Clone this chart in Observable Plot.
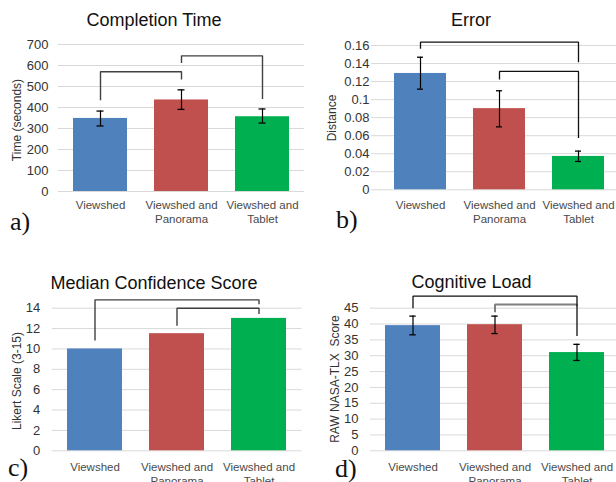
<!DOCTYPE html>
<html><head><meta charset="utf-8">
<script src="https://cdn.jsdelivr.net/npm/d3@7"></script>
<script src="https://cdn.jsdelivr.net/npm/@observablehq/plot@0.6"></script>
<style>
html,body{margin:0;padding:0;background:#fff;overflow:hidden;}
#wrap{position:relative;width:616px;height:482px;overflow:hidden;background:#fff;font-family:"Liberation Sans",Arial,sans-serif;}
.panel{position:absolute;}
.title{position:absolute;font-size:18px;line-height:1;color:#111;white-space:nowrap;transform:translateX(-50%);}
.ylab{position:absolute;font-size:12px;line-height:1;color:#333;white-space:pre;transform:translate(-50%,-50%) rotate(-90deg);}
.tag{position:absolute;font-family:"Liberation Serif","Times New Roman",serif;font-size:26px;line-height:1;color:#111;}
</style></head><body><div id="wrap"></div>
<script>
// ---------- data ----------
const categories = ["Viewshed", "Viewshed and Panorama", "Viewshed and Tablet"];
const categoryLabels = ["Viewshed", "Viewshed and\nPanorama", "Viewshed and\nTablet"];
const barColors = ["#4F81BD", "#C0504D", "#00B050"];

// a) Completion Time
const timeTitle = "Completion Time";
const timeAxisLabel = "Time (seconds)";
const timeMean = [348, 436, 356];
const timeLow = [312, 391, 326];
const timeHigh = [383, 484, 393];
const timeTicks = [0, 100, 200, 300, 400, 500, 600, 700];
const timeBrFrom = ["Viewshed", "Viewshed and Panorama"];
const timeBrTo = ["Viewshed and Panorama", "Viewshed and Tablet"];
const timeBrTop = [570, 646];
const timeBrFromEnd = [434, 612];
const timeBrToEnd = [533, 441];

// b) Error
const errTitle = "Error";
const errAxisLabel = "Distance";
const errMean = [0.129, 0.09, 0.037];
const errLow = [0.1116, 0.0698, 0.0314];
const errHigh = [0.147, 0.1098, 0.0429];
const errTicks = [0, 0.02, 0.04, 0.06, 0.08, 0.1, 0.12, 0.14, 0.16];
const errBrFrom = ["Viewshed", "Viewshed and Panorama"];
const errBrTo = ["Viewshed and Tablet", "Viewshed and Tablet"];
const errBrTop = [0.1637, 0.1312];
const errBrFromEnd = [0.1563, 0.1223];
const errBrToEnd = [0.1415, 0.0573];

// c) Median Confidence Score
const confTitle = "Median Confidence Score";
const confAxisLabel = "Likert Scale (3-15)";
const confMedian = [10, 11.5, 13];
const confTicks = [0, 2, 4, 6, 8, 10, 12, 14];
const confBrFrom = ["Viewshed", "Viewshed and Panorama"];
const confBrTo = ["Viewshed and Tablet", "Viewshed and Tablet"];
const confBrTop = [14.82, 14.0];
const confBrFromEnd = [10.83, 12.27];
const confBrToEnd = [14.39, 13.44];

// d) Cognitive Load
const loadTitle = "Cognitive Load";
const loadAxisLabel = "RAW NASA-TLX\u00a0 Score";
const loadMean = [39.5, 39.8, 31.0];
const loadLow = [36.6, 37.0, 28.5];
const loadHigh = [42.5, 42.5, 33.6];
const loadTicks = [0, 5, 10, 15, 20, 25, 30, 35, 40, 45];
const loadBrFrom = ["Viewshed and Panorama", "Viewshed"];
const loadBrTo = ["Viewshed and Tablet", "Viewshed and Tablet"];
const loadBrTop = [46.2, 48.8];
const loadBrFromEnd = [43.7, 45.0];
const loadBrToEnd = [45.6, 36.2];

// ---------- drawing ----------
const wrap = document.getElementById("wrap");

function addText(cls, text, left, top) {
  const d = document.createElement("div");
  d.className = cls;
  d.textContent = text;
  d.style.left = left + "px";
  d.style.top = top + "px";
  wrap.appendChild(d);
}

function drawPanel(cfg, vals, low, high, ticks, br, tickFormat) {
  const rows = categories.map((c, i) => ({cat: c, value: vals[i], low: low ? low[i] : null, high: high ? high[i] : null}));
  const marks = [
    Plot.gridY(ticks, {stroke: "#d9d9d9", strokeOpacity: 1, strokeWidth: 1}),
    Plot.barY(rows, {x: "cat", y: "value", fill: "cat"})
  ];
  if (low) {
    marks.push(
      Plot.ruleX(rows, {x: "cat", y1: "low", y2: "high", stroke: "#000", strokeWidth: 1.2}),
      Plot.tickY(rows, {x: "cat", y: "low", stroke: "#000", strokeWidth: 1.3, insetLeft: cfg.cap, insetRight: cfg.cap}),
      Plot.tickY(rows, {x: "cat", y: "high", stroke: "#000", strokeWidth: 1.3, insetLeft: cfg.cap, insetRight: cfg.cap})
    );
  }
  br.from.forEach((f, i) => {
    const pts = [
      {x: f, y: br.fromEnd[i]},
      {x: f, y: br.top[i]},
      {x: br.to[i], y: br.top[i]},
      {x: br.to[i], y: br.toEnd[i]}
    ];
    marks.push(Plot.line(pts, {x: "x", y: "y", stroke: cfg.brStroke[i], strokeWidth: cfg.brWidth[i], strokeLinejoin: "miter", strokeLinecap: "butt"}));
  });
  marks.push(
    Plot.axisY(ticks, {tickSize: 0, tickPadding: cfg.yPad, fontSize: 13, color: "#333", tickFormat, label: null}),
    Plot.axisX({tickSize: 0, tickPadding: cfg.xPad, fontSize: 11.5, lineHeight: 1.22, color: "#4a4a4a",
      tickFormat: d => categoryLabels[categories.indexOf(d)], label: null})
  );
  const svg = Plot.plot({
    width: cfg.width, height: cfg.height,
    marginLeft: cfg.ml, marginRight: cfg.mr, marginTop: cfg.mt, marginBottom: cfg.mb,
    x: {domain: categories, paddingInner: cfg.pi, paddingOuter: cfg.po, label: null},
    y: {domain: cfg.ydomain, label: null},
    color: {domain: categories, range: barColors},
    style: {fontFamily: "'Liberation Sans', Arial, sans-serif", background: "transparent", overflow: "visible", maxWidth: "none"},
    marks
  });
  const div = document.createElement("div");
  div.className = "panel";
  div.style.left = cfg.left + "px";
  div.style.top = cfg.top + "px";
  div.appendChild(svg);
  wrap.appendChild(div);
}

// a
drawPanel({left: 0, top: 0, width: 308, height: 241, ml: 58, mr: 4, mt: 44, mb: 50, pi: 0.333, po: 0.185,
  yPad: 10, xPad: 7.5, cap: 23.5, ydomain: [0, 700], brStroke: ["#404040", "#404040"], brWidth: [1.4, 1.4]},
  timeMean, timeLow, timeHigh, timeTicks,
  {from: timeBrFrom, to: timeBrTo, top: timeBrTop, fromEnd: timeBrFromEnd, toEnd: timeBrToEnd}, d => String(d));
addText("title", timeTitle, 154, 10.5);
addText("ylab", timeAxisLabel, 17, 120);
addText("tag", "a)", 10, 209);

// b
drawPanel({left: 308, top: 0, width: 330, height: 241, ml: 63, mr: 10.3, mt: 45, mb: 51.7, pi: 0.341, po: 0.275,
  yPad: 2, xPad: 9.2, cap: 23, ydomain: [0, 0.16], brStroke: ["#111", "#111"], brWidth: [1.3, 1.3]},
  errMean, errLow, errHigh, errTicks,
  {from: errBrFrom, to: errBrTo, top: errBrTop, fromEnd: errBrFromEnd, toEnd: errBrToEnd}, d => String(d));
addText("title", errTitle, 471, 11);
addText("ylab", errAxisLabel, 332, 118);
addText("tag", "b)", 336, 207);

// c
drawPanel({left: 0, top: 241, width: 308, height: 241, ml: 51.7, mr: 6.3, mt: 66.7, mb: 31.7, pi: 0.33, po: 0.172,
  yPad: 12, xPad: 10.5, cap: 24, ydomain: [0, 14], brStroke: ["#404040", "#404040"], brWidth: [1.4, 1.4]},
  confMedian, null, null, confTicks,
  {from: confBrFrom, to: confBrTo, top: confBrTop, fromEnd: confBrFromEnd, toEnd: confBrToEnd}, d => String(d));
addText("title", confTitle, 154, 273.5);
addText("ylab", confAxisLabel, 17, 381);
addText("tag", "c)", 8, 455);

// d
drawPanel({left: 308, top: 241, width: 330, height: 241, ml: 62, mr: 18.4, mt: 66.7, mb: 31.7, pi: 0.33, po: 0.169,
  yPad: 12, xPad: 9.8, cap: 24.3, ydomain: [0, 45], brStroke: ["#7f7f7f", "#111"], brWidth: [2, 1.3]},
  loadMean, loadLow, loadHigh, loadTicks,
  {from: loadBrFrom, to: loadBrTo, top: loadBrTop, fromEnd: loadBrFromEnd, toEnd: loadBrToEnd}, d => String(d));
addText("title", loadTitle, 471.5, 272.5);
addText("ylab", loadAxisLabel, 334.5, 379);
addText("tag", "d)", 335, 456);
</script>
</body></html>
